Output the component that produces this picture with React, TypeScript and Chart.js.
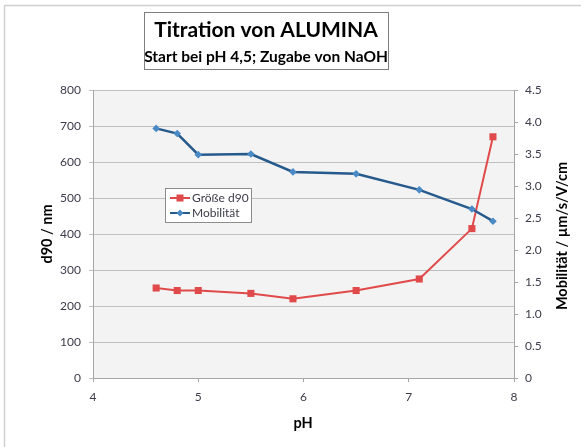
import React, { useEffect, useRef } from "react";
import { Chart, registerables } from "chart.js";

Chart.register(...registerables);

const phSize = [4.6, 4.8, 5.0, 5.5, 5.9, 6.5, 7.1, 7.6, 7.8];
const d90Values = [250, 243, 243, 235, 220, 243, 275, 415, 670];
const phMob = [4.6, 4.8, 5.0, 5.5, 5.9, 6.5, 7.1, 7.6, 7.8];
const mobilityValues = [3.9, 3.82, 3.49, 3.5, 3.22, 3.19, 2.94, 2.64, 2.45];
const titleText = "Titration von ALUMINA";
const subtitleText = "Start bei pH 4,5; Zugabe von NaOH";
const seriesNames = ["Größe d90", "Mobilität"];
const xTitle = "pH";
const yTitle = "d90 / nm";
const y1Title = "Mobilität / µm/s/V/cm";

const FONT = "Lato, 'Open Sans', sans-serif";
const RED = "#e04a4a";
const BLUE_LINE = "#275a8c";
const BLUE_MARK = "#4a8ac6";
const TEXT = "#3c3c4a";

const decorPlugin = {
  id: "decor",
  beforeDraw(chart: any) {
    const { ctx, chartArea } = chart;
    ctx.save();
    ctx.fillStyle = "#ffffff";
    ctx.fillRect(0, 0, chart.width, chart.height);
    ctx.strokeStyle = "#d0d0d0";
    ctx.lineWidth = 1.5;
    ctx.strokeRect(4.5, 5.5, chart.width + 10, chart.height + 10);
    ctx.fillStyle = "#f3f3f3";
    ctx.fillRect(chartArea.left, chartArea.top, chartArea.right - chartArea.left, chartArea.bottom - chartArea.top);
    ctx.restore();
  },
  afterDraw(chart: any) {
    const { ctx } = chart;
    ctx.save();
    ctx.fillStyle = "#ffffff";
    ctx.fillRect(144, 12, 244, 57);
    ctx.strokeStyle = "#7f7f7f";
    ctx.lineWidth = 1;
    ctx.strokeRect(144.5, 12.5, 244, 57);
    ctx.fillStyle = "#000000";
    ctx.textAlign = "center";
    ctx.textBaseline = "middle";
    ctx.font = `bold 21px ${FONT}`;
    ctx.fillText(titleText, 266, 30);
    ctx.font = `bold 15.5px ${FONT}`;
    ctx.fillText(subtitleText, 266, 57);

    ctx.font = `bold 14.5px ${FONT}`;
    ctx.fillStyle = "#000000";
    ctx.fillText(xTitle, 303, 423);
    ctx.save();
    ctx.translate(47, 234);
    ctx.rotate(-Math.PI / 2);
    ctx.fillText(yTitle, 0, 0);
    ctx.restore();
    ctx.save();
    ctx.translate(562, 236);
    ctx.rotate(-Math.PI / 2);
    ctx.fillText(y1Title, 0, 0);
    ctx.restore();

    const lx = 165, ly = 188, lw = 86, lh = 34;
    ctx.fillStyle = "#ffffff";
    ctx.fillRect(lx, ly, lw, lh);
    ctx.strokeStyle = "#8c8c8c";
    ctx.strokeRect(lx + 0.5, ly + 0.5, lw, lh);
    const entries = [
      { name: seriesNames[0], line: RED, mark: RED, shape: "rect", y: ly + 10 },
      { name: seriesNames[1], line: BLUE_LINE, mark: BLUE_MARK, shape: "diamond", y: ly + 25 },
    ];
    ctx.font = `12px ${FONT}`;
    ctx.textAlign = "left";
    for (const e of entries) {
      ctx.strokeStyle = e.line;
      ctx.lineWidth = 2;
      ctx.beginPath();
      ctx.moveTo(lx + 5, e.y);
      ctx.lineTo(lx + 25, e.y);
      ctx.stroke();
      ctx.fillStyle = e.mark;
      if (e.shape === "rect") {
        ctx.fillRect(lx + 11.5, e.y - 3.5, 7, 7);
      } else {
        ctx.beginPath();
        ctx.moveTo(lx + 15, e.y - 3.5);
        ctx.lineTo(lx + 18.5, e.y);
        ctx.lineTo(lx + 15, e.y + 3.5);
        ctx.lineTo(lx + 11.5, e.y);
        ctx.closePath();
        ctx.fill();
      }
      ctx.fillStyle = TEXT;
      ctx.fillText(e.name, lx + 27, e.y + 0.5);
    }
    ctx.restore();
  },
};

export default function App() {
  const ref = useRef<HTMLCanvasElement | null>(null);
  useEffect(() => {
    if (!ref.current) return;
    const chart = new Chart(ref.current, {
      type: "scatter",
      data: {
        datasets: [
          {
            label: seriesNames[0],
            data: phSize.map((x, i) => ({ x, y: d90Values[i] })),
            showLine: true,
            borderColor: RED,
            backgroundColor: RED,
            borderWidth: 2,
            pointStyle: "rect",
            pointRadius: 5,
            pointBorderWidth: 0,
            yAxisID: "y",
            order: 2,
          },
          {
            label: seriesNames[1],
            data: phMob.map((x, i) => ({ x, y: mobilityValues[i] })),
            showLine: true,
            borderColor: BLUE_LINE,
            backgroundColor: BLUE_MARK,
            pointBackgroundColor: BLUE_MARK,
            pointBorderColor: BLUE_MARK,
            borderWidth: 2.5,
            pointStyle: "rectRot",
            pointRadius: 3.8,
            pointBorderWidth: 0,
            yAxisID: "y1",
            order: 1,
          },
        ],
      },
      options: {
        animation: false,
        responsive: false,
        maintainAspectRatio: false,
        layout: { padding: { top: 90, left: 0, right: 0, bottom: 0 } },
        plugins: { legend: { display: false }, tooltip: { enabled: false }, title: { display: false } },
        scales: {
          x: {
            type: "linear",
            min: 4,
            max: 8,
            ticks: { stepSize: 1, color: TEXT, font: { family: FONT, size: 12 }, padding: 8 },
            grid: { display: true, drawOnChartArea: false, drawTicks: true, tickLength: 4, color: "#a6a6a6" },
            border: { display: true, color: "#a6a6a6" },
            afterFit: (s: any) => { s.height = 69; },
          },
          y: {
            position: "left",
            min: 0,
            max: 800,
            ticks: { stepSize: 100, color: TEXT, font: { family: FONT, size: 12 }, padding: 8 },
            grid: { color: "#bfbfbf", tickLength: 4, drawTicks: true },
            border: { display: true, color: "#a6a6a6" },
            afterFit: (s: any) => { s.width = 93; },
          },
          y1: {
            position: "right",
            min: 0,
            max: 4.5,
            ticks: { stepSize: 0.5, color: TEXT, font: { family: FONT, size: 12 }, padding: 7 },
            grid: { drawOnChartArea: false, tickLength: 4, drawTicks: true, color: "#a6a6a6" },
            border: { display: true, color: "#a6a6a6" },
            afterFit: (s: any) => { s.width = 67; },
          },
        },
      },
      plugins: [decorPlugin],
    } as any);
    return () => chart.destroy();
  }, []);
  return (
    <div style={{ position: "fixed", left: 0, top: 0, width: 581, height: 447 }}>
      <canvas ref={ref} width={581} height={447} style={{ width: 581, height: 447, display: "block" }} />
    </div>
  );
}
